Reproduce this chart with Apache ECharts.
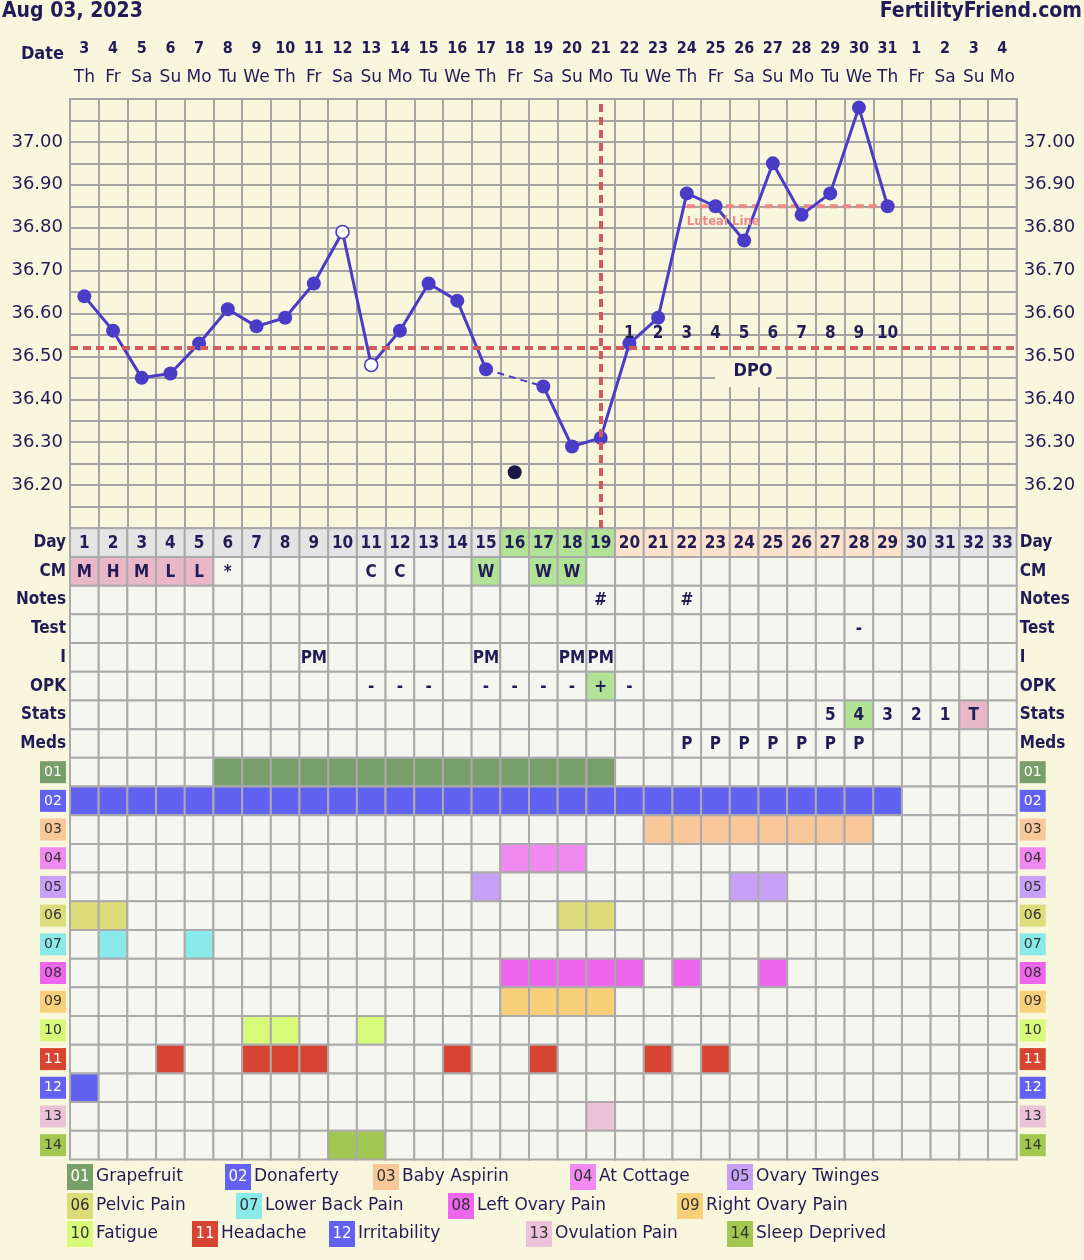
<!DOCTYPE html>
<html><head><meta charset="utf-8">
<script src="https://cdn.jsdelivr.net/npm/echarts@6/dist/echarts.min.js"></script>
<style>html,body{margin:0;padding:0;background:#f8f6dc;}#c{width:1084px;height:1260px;}</style>
</head><body><div id="c"></div>
<script>
// ---------------- DATA ----------------
const chartDate = 'Aug 03, 2023';
const siteName = 'FertilityFriend.com';
const cycleDays = ['1','2','3','4','5','6','7','8','9','10','11','12','13','14','15','16','17','18','19','20','21','22','23','24','25','26','27','28','29','30','31','32','33'];
const dateLabels = ['3','4','5','6','7','8','9','10','11','12','13','14','15','16','17','18','19','20','21','22','23','24','25','26','27','28','29','30','31','1','2','3','4'];
const weekdayLabels = ['Th','Fr','Sa','Su','Mo','Tu','We','Th','Fr','Sa','Su','Mo','Tu','We','Th','Fr','Sa','Su','Mo','Tu','We','Th','Fr','Sa','Su','Mo','Tu','We','Th','Fr','Sa','Su','Mo'];
const temps = [36.64,36.56,36.45,36.46,36.53,36.61,36.57,36.59,36.67,36.79,36.48,36.56,36.67,36.63,36.47,null,36.43,36.29,36.31,36.53,36.59,36.88,36.85,36.77,36.95,36.83,36.88,37.08,36.85,null,null,null,null];
const openCircleDays = [10, 11];
const bridgedGap = [15, 17];          // dashed segment across missing day 16
const discardedTemp = {day: 16, temp: 36.23};
const coverline = 36.52;
const ovulationDay = 19;
const lutealLine = {from: 22, to: 29, temp: 36.85, label: 'Luteal Line'};
const dpoLabels = ['1','2','3','4','5','6','7','8','9','10'];
const dpoStartDay = 20;
const tempTickLabels = ['36.20','36.30','36.40','36.50','36.60','36.70','36.80','36.90','37.00'];

const rowNames = ['Day','CM','Notes','Test','I','OPK','Stats','Meds','01','02','03','04','05','06','07','08','09','10','11','12','13','14'];
const fertileDays = [16,17,18,19];
const lutealDays = [20,21,22,23,24,25,26,27,28,29];
const cmEntries = {1:'M',2:'H',3:'M',4:'L',5:'L',6:'*',11:'C',12:'C',15:'W',17:'W',18:'W'};
const notesEntries = {19:'#',22:'#'};
const testEntries = {28:'-'};
const intercourseEntries = {9:'PM',15:'PM',18:'PM',19:'PM'};
const opkEntries = {11:'-',12:'-',13:'-',15:'-',16:'-',17:'-',18:'-',19:'+',20:'-'};
const statsEntries = {27:'5',28:'4',29:'3',30:'2',31:'1',32:'T'};
const medsEntries = {22:'P',23:'P',24:'P',25:'P',26:'P',27:'P',28:'P'};
const greenCells = {CM:[15,17,18], OPK:[19], Stats:[28]};
const pinkCells = {CM:[1,2,3,4,5], Stats:[32]};

const medCodes = ['01','02','03','04','05','06','07','08','09','10','11','12','13','14'];
const medNames = ['Grapefruit','Donaferty','Baby Aspirin','At Cottage','Ovary Twinges','Pelvic Pain','Lower Back Pain','Left Ovary Pain','Right Ovary Pain','Fatigue','Headache','Irritability','Ovulation Pain','Sleep Deprived'];
const medDays = {
  '01':[6,7,8,9,10,11,12,13,14,15,16,17,18,19],
  '02':[1,2,3,4,5,6,7,8,9,10,11,12,13,14,15,16,17,18,19,20,21,22,23,24,25,26,27,28,29],
  '03':[21,22,23,24,25,26,27,28],
  '04':[16,17,18],
  '05':[15,24,25],
  '06':[1,2,18,19],
  '07':[2,5],
  '08':[16,17,18,19,20,22,25],
  '09':[16,17,18,19],
  '10':[7,8,11],
  '11':[4,7,8,9,14,17,21,23],
  '12':[1],
  '13':[19],
  '14':[10,11]
};

// ---------------- STYLE / LAYOUT ----------------
const BG = '#f8f6dc', NAVY = '#211c57', GRIDC = '#a4a4a4';
const LINEC = '#4b3cc8', COVERC = '#d25a5a', LUTC = '#ea8888';
const CELL_EMPTY = '#f6f6f1', CELL_GRAY = '#e4e4e4', CELL_GREEN = '#b2e296', CELL_PEACH = '#fde3cc', CELL_PINK = '#e9b7c8';
const medColors = {'01':'#789e6a','02':'#6262f2','03':'#f8c89a','04':'#f08af0','05':'#c8a0f8','06':'#dcdc7a','07':'#8aeaea','08':'#ee66ee','09':'#f8d07a','10':'#d8fa7a','11':'#d84432','12':'#6262f2','13':'#ecc2d8','14':'#a2c852'};
const medTextLight = ['01','02','11','12'];
const COND = '"DejaVu Sans Condensed","DejaVu Sans",sans-serif';
const SANS = '"DejaVu Sans",Verdana,sans-serif';
const GL = 70, GW = 946.7, G0T = 99, G0H = 429, G1T = 528.3, G1H = 631.2;
const dpoLabelTemp = 36.553;
const legendRowsY = [1177, 1206, 1234];
const legendPos = [[67,0],[225,0],[373,0],[570,0],[727,0],[67,1],[236,1],[448,1],[677,1],[67,2],[192,2],[329,2],[526,2],[727,2]];

// ---------------- BUILD ----------------
const tempData = temps.map((t, i) => {
  if (t === null) return null;
  if (openCircleDays.includes(i + 1)) return {value: t, itemStyle: {color: '#ffffff', borderColor: LINEC, borderWidth: 1.6}, symbolSize: 13};
  return t;
});

const rowEntries = {CM: cmEntries, Notes: notesEntries, Test: testEntries, I: intercourseEntries, OPK: opkEntries, Stats: statsEntries, Meds: medsEntries};
const cells = [], cellMeta = [];
rowNames.forEach((rn, r) => {
  cycleDays.forEach((d, c) => {
    const day = c + 1;
    let fill = CELL_EMPTY, text = '';
    if (rn === 'Day') {
      text = d;
      fill = fertileDays.includes(day) ? CELL_GREEN : (lutealDays.includes(day) ? CELL_PEACH : CELL_GRAY);
    } else if (rowEntries[rn]) {
      text = rowEntries[rn][day] || '';
      if (greenCells[rn] && greenCells[rn].includes(day)) fill = CELL_GREEN;
      if (pinkCells[rn] && pinkCells[rn].includes(day)) fill = CELL_PINK;
    } else if (medDays[rn] && medDays[rn].includes(day)) {
      fill = medColors[rn];
    }
    cells.push([c, r]);
    cellMeta.push({fill, text});
  });
});

const rich = {t: {fontFamily: COND, fontWeight: 'bold', fontSize: 17, color: NAVY}};
medCodes.forEach(code => {
  rich['m' + code] = {backgroundColor: medColors[code], color: medTextLight.includes(code) ? '#ffffff' : '#333333',
    fontFamily: SANS, fontSize: 14, width: 18, height: 16, lineHeight: 16, align: 'center', padding: [3, 4, 3, 4]};
});
const rowLabelFmt = v => medCodes.includes(v) ? '{m' + v + '|' + v + '}' : '{t|' + v + '}';

const graphics = [
  {type: 'text', left: 2, top: 1, style: {text: chartDate, font: 'bold 21px ' + COND, fill: NAVY}},
  {type: 'text', right: 2, top: 1, style: {text: siteName, font: 'bold 21px ' + COND, fill: NAVY}},
  {type: 'text', x: 64, y: 54, style: {text: 'Date', font: 'bold 18px ' + COND, fill: NAVY, align: 'right', textAlign: 'right', verticalAlign: 'middle', textVerticalAlign: 'middle'}},
  {type: 'rect', x: 715, y: 358, z: 100, shape: {width: 61, height: 29}, style: {fill: BG}},
  {type: 'text', x: 753, y: 371, z: 101, style: {text: 'DPO', font: 'bold 18px ' + COND, fill: NAVY, align: 'center', textAlign: 'center', verticalAlign: 'middle', textVerticalAlign: 'middle'}}
];
medCodes.forEach((code, i) => {
  const [x, row] = legendPos[i];
  const y = legendRowsY[row];
  graphics.push({type: 'rect', x: x, y: y - 13, shape: {width: 26, height: 26}, style: {fill: medColors[code]}});
  graphics.push({type: 'text', x: x + 13, y: y, style: {text: code, font: '15px ' + SANS, fill: medTextLight.includes(code) ? '#ffffff' : '#333333', align: 'center', textAlign: 'center', verticalAlign: 'middle', textVerticalAlign: 'middle'}});
  graphics.push({type: 'text', x: x + 29, y: y, style: {text: medNames[i], font: '17px ' + SANS, fill: NAVY, align: 'left', textAlign: 'left', verticalAlign: 'middle', textVerticalAlign: 'middle'}});
});

const tempLabelFmt = v => {
  const s = (Math.round(v * 100) / 100).toFixed(2);
  return tempTickLabels.includes(s) ? s : '';
};

const option = {
  animation: false,
  backgroundColor: BG,
  grid: [
    {left: GL, top: G0T, width: GW, height: G0H, show: true, borderColor: GRIDC, borderWidth: 2, backgroundColor: 'transparent'},
    {left: GL, top: G1T, width: GW, height: G1H, show: false}
  ],
  xAxis: [
    {type: 'category', gridIndex: 0, data: cycleDays, boundaryGap: true, axisLabel: {show: false}, axisTick: {show: false}, axisLine: {show: false},
      splitLine: {show: true, interval: 0, lineStyle: {color: GRIDC, width: 2}}},
    {type: 'category', gridIndex: 0, position: 'top', data: cycleDays, boundaryGap: true, axisTick: {show: false}, axisLine: {show: false}, splitLine: {show: false},
      axisLabel: {interval: 0, margin: 7, formatter: (v, i) => '{d|' + dateLabels[i] + '}\n{w|' + weekdayLabels[i] + '}',
        rich: {d: {fontFamily: COND, fontWeight: 'bold', fontSize: 16, color: NAVY, lineHeight: 29}, w: {fontFamily: SANS, fontSize: 17, color: NAVY, lineHeight: 29}}}},
    {type: 'category', gridIndex: 1, data: cycleDays, boundaryGap: true, axisLabel: {show: false}, axisTick: {show: false}, axisLine: {show: false}, splitLine: {show: false}}
  ],
  yAxis: [
    {type: 'value', gridIndex: 0, min: 36.1, max: 37.1, interval: 0.05, axisLine: {show: false}, axisTick: {show: false},
      splitLine: {show: true, lineStyle: {color: GRIDC, width: 2}},
      axisLabel: {margin: 7, formatter: tempLabelFmt, fontFamily: SANS, fontSize: 18, color: NAVY}},
    {type: 'value', gridIndex: 0, position: 'right', min: 36.1, max: 37.1, interval: 0.05, axisLine: {show: false}, axisTick: {show: false}, splitLine: {show: false},
      axisLabel: {margin: 7, formatter: tempLabelFmt, fontFamily: SANS, fontSize: 18, color: NAVY}},
    {type: 'category', gridIndex: 1, data: rowNames, inverse: true, boundaryGap: true, axisLine: {show: false}, axisTick: {show: false}, splitLine: {show: false},
      axisLabel: {interval: 0, margin: 4, formatter: rowLabelFmt, rich: rich}},
    {type: 'category', gridIndex: 1, position: 'right', data: rowNames, inverse: true, boundaryGap: true, axisLine: {show: false}, axisTick: {show: false}, splitLine: {show: false},
      axisLabel: {interval: 0, margin: 3, formatter: rowLabelFmt, rich: rich}}
  ],
  graphic: graphics,
  series: [
    {type: 'line', name: 'refs', xAxisIndex: 0, yAxisIndex: 0, data: [], z: 1, silent: true,
      markLine: {silent: true, symbol: 'none', label: {show: false}, animation: false,
        lineStyle: {color: COVERC, width: 4, type: [8, 5]},
        data: [{yAxis: coverline}, {xAxis: ovulationDay - 1}]}},
    {type: 'line', name: 'luteal', xAxisIndex: 0, yAxisIndex: 0, z: 2, silent: true, symbol: 'none',
      data: cycleDays.map((d, i) => (i + 1 >= lutealLine.from && i + 1 <= lutealLine.to) ? lutealLine.temp : null),
      lineStyle: {color: LUTC, width: 4, type: [8, 5]},
      markPoint: {symbol: 'circle', symbolSize: 0, silent: true,
        data: [{coord: [lutealLine.from - 1, lutealLine.temp],
          label: {show: true, formatter: lutealLine.label, position: [0, 9], color: LUTC, fontFamily: COND, fontWeight: 'bold', fontSize: 13}}]}},
    {type: 'line', name: 'bridge', xAxisIndex: 0, yAxisIndex: 0, z: 3, symbol: 'none',
      data: bridgedGap.map(d => [d - 1, temps[d - 1]]),
      lineStyle: {color: LINEC, width: 2, type: [7, 5]}},
    {type: 'line', name: 'temps', xAxisIndex: 0, yAxisIndex: 0, z: 4, data: tempData, connectNulls: false,
      symbol: 'circle', symbolSize: 14, itemStyle: {color: LINEC}, lineStyle: {color: LINEC, width: 3}},
    {type: 'scatter', name: 'discarded', xAxisIndex: 0, yAxisIndex: 0, z: 4, symbolSize: 14,
      data: [[discardedTemp.day - 1, discardedTemp.temp]], itemStyle: {color: '#1b1845', opacity: 1}},
    {type: 'scatter', name: 'dpo', xAxisIndex: 0, yAxisIndex: 0, z: 5, symbolSize: 1, silent: true,
      itemStyle: {opacity: 0},
      data: dpoLabels.map((l, i) => [dpoStartDay - 1 + i, dpoLabelTemp]),
      label: {show: true, position: 'inside', opacity: 1, formatter: p => dpoLabels[p.dataIndex], fontFamily: COND, fontWeight: 'bold', fontSize: 17, color: NAVY}},
    {type: 'custom', name: 'table', xAxisIndex: 2, yAxisIndex: 2, data: cells, encode: {x: 0, y: 1}, silent: true,
      renderItem: (params, api) => {
        const c = api.coord([api.value(0), api.value(1)]);
        const s = api.size([1, 1]);
        const m = cellMeta[params.dataIndex];
        const children = [{type: 'rect', shape: {x: c[0] - s[0] / 2, y: c[1] - s[1] / 2, width: s[0], height: s[1]},
          style: {fill: m.fill, stroke: '#aaaaaa', lineWidth: 2}}];
        if (m.text) children.push({type: 'text', style: {text: m.text, x: c[0], y: c[1] + 1, font: 'bold 17px ' + COND, fill: NAVY,
          align: 'center', verticalAlign: 'middle', textAlign: 'center', textVerticalAlign: 'middle'}});
        return {type: 'group', children};
      }}
  ]
};
const chart = echarts.init(document.getElementById('c'), null, {renderer: 'canvas'});
chart.setOption(option);
</script></body></html>
